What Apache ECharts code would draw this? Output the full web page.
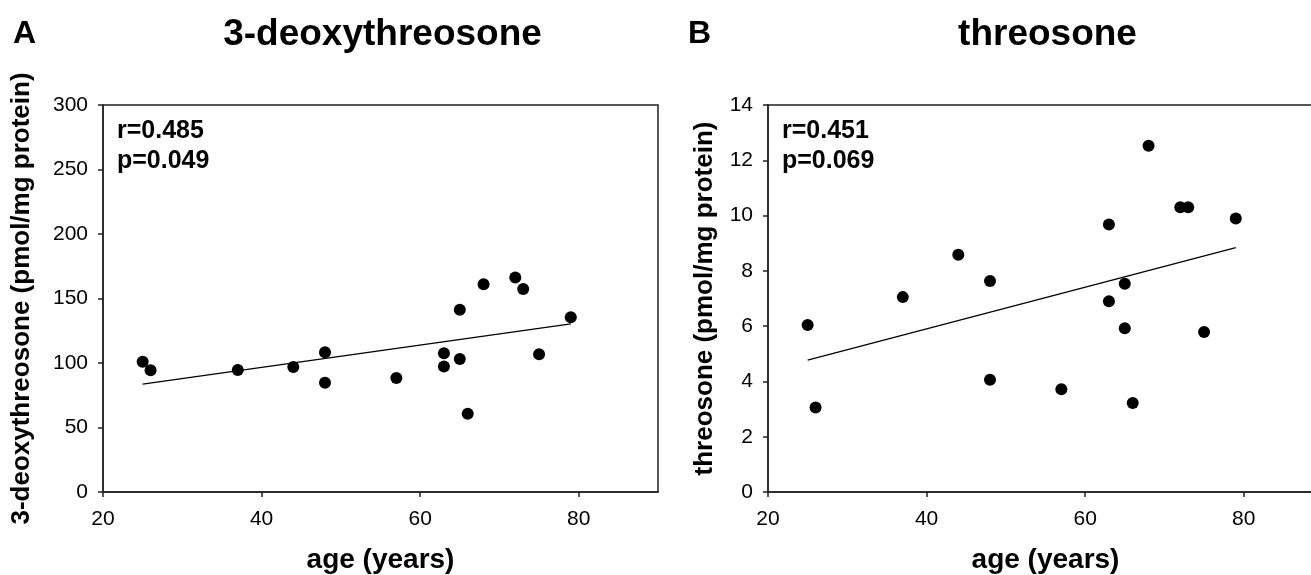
<!DOCTYPE html>
<html><head><meta charset="utf-8">
<script src="https://cdn.jsdelivr.net/npm/echarts@6/dist/echarts.min.js"></script>
<style>html,body{margin:0;padding:0;background:#fff}#c{width:1311px;height:575px}</style>
</head><body><div id="c"></div>
<script>
// ---- data ----
const ages = [25, 26, 37, 44, 48, 48, 57, 63, 63, 65, 65, 66, 68, 72, 73, 75, 79];
const deoxyValues = [101.0, 94.3, 94.6, 96.9, 108.3, 84.7, 88.3, 107.5, 97.2, 141.2, 103.1, 60.6, 161.1, 166.3, 157.3, 106.7, 135.5];
const threosoneValues = [6.04, 3.06, 7.05, 8.58, 7.63, 4.06, 3.72, 9.68, 6.90, 7.53, 5.92, 3.22, 12.53, 10.30, 10.30, 5.79, 9.89];
const trendAges = [25, 79];
const deoxyTrend = [83.7, 130.3];
const threosoneTrend = [4.77, 8.84];
const xTicks = [20, 40, 60, 80];
const deoxyTicks = [0, 50, 100, 150, 200, 250, 300];
const threosoneTicks = [0, 2, 4, 6, 8, 10, 12, 14];
const panelLetters = ['A', 'B'];
const panelTitles = ['3-deoxythreosone', 'threosone'];
const statTexts = ['r=0.485\np=0.049', 'r=0.451\np=0.069'];
const yNames = ['3-deoxythreosone (pmol/mg protein)', 'threosone (pmol/mg protein)'];
const xName = 'age (years)';

// ---- chart ----
const FF = '"Liberation Sans", Arial, Helvetica, sans-serif';
const AX = '#222';
const pair = (xs, ys) => xs.map((x, i) => [x, ys[i]]);

const grids = [
  { left: 103, top: 105, width: 555, height: 387 },
  { left: 768, top: 105, width: 555, height: 387 }
];
const yTickSets = [deoxyTicks, threosoneTicks];
const yNameGaps = [68, 50];

const option = {
  animation: false,
  backgroundColor: '#fff',
  grid: grids.map(g => Object.assign({ show: true, borderColor: AX, borderWidth: 1.5, backgroundColor: 'transparent', containLabel: false, outerBoundsMode: 'none' }, g)),
  xAxis: grids.map((g, i) => ({
    type: 'value', gridIndex: i, min: 20, max: 90, interval: 20,
    axisLine: { show: true, onZero: false, lineStyle: { color: AX, width: 1.5 } },
    axisTick: { show: true, inside: false, length: 5, lineStyle: { color: AX, width: 1.5 }, customValues: xTicks },
    axisLabel: { customValues: xTicks, fontSize: 21, color: '#000', margin: 17, fontFamily: FF },
    splitLine: { show: false },
    name: xName, nameLocation: 'middle', nameGap: 54,
    nameTextStyle: { fontSize: 28, fontWeight: 'bold', color: '#000', fontFamily: FF }
  })),
  yAxis: grids.map((g, i) => {
    const t = yTickSets[i];
    return {
      type: 'value', gridIndex: i, min: t[0], max: t[t.length - 1], interval: t[1] - t[0],
      axisLine: { show: true, onZero: false, lineStyle: { color: AX, width: 1.5 } },
      axisTick: { show: true, inside: false, length: 5, lineStyle: { color: AX, width: 1.5 } },
      axisLabel: { fontSize: 21, color: '#000', margin: 15, fontFamily: FF },
      splitLine: { show: false },
      name: yNames[i], nameLocation: 'middle', nameRotate: 90, nameGap: yNameGaps[i],
      nameTextStyle: { fontSize: 26, fontWeight: 'bold', color: '#000', fontFamily: FF }
    };
  }),
  series: [
    { type: 'scatter', xAxisIndex: 0, yAxisIndex: 0, data: pair(ages, deoxyValues), symbolSize: 12, itemStyle: { color: '#000', opacity: 1 } },
    { type: 'line', xAxisIndex: 0, yAxisIndex: 0, data: pair(trendAges, deoxyTrend), showSymbol: false, symbol: 'none', lineStyle: { color: '#000', width: 1.3 } },
    { type: 'scatter', xAxisIndex: 1, yAxisIndex: 1, data: pair(ages, threosoneValues), symbolSize: 12, itemStyle: { color: '#000', opacity: 1 } },
    { type: 'line', xAxisIndex: 1, yAxisIndex: 1, data: pair(trendAges, threosoneTrend), showSymbol: false, symbol: 'none', lineStyle: { color: '#000', width: 1.3 } }
  ],
  graphic: [].concat(
    grids.map((g, i) => ({ type: 'text', x: i === 0 ? 13 : 688, y: 34,
      style: { text: panelLetters[i], fontSize: 32, fontWeight: 'bold', fontFamily: FF, fill: '#000', align: 'left', verticalAlign: 'middle' } })),
    grids.map((g, i) => ({ type: 'text', x: g.left + g.width / 2 + 2, y: 35,
      style: { text: panelTitles[i], fontSize: 37, fontWeight: 'bold', fontFamily: FF, fill: '#000', align: 'center', verticalAlign: 'middle' } })),
    grids.map((g, i) => ({ type: 'text', x: g.left + 14, y: 116,
      style: { text: statTexts[i], fontSize: 25, lineHeight: 30, fontWeight: 'bold', fontFamily: FF, fill: '#000', align: 'left', verticalAlign: 'top' } }))
  )
};

const chart = echarts.init(document.getElementById('c'), null, { renderer: 'canvas' });
chart.setOption(option);
</script>
</body></html>
